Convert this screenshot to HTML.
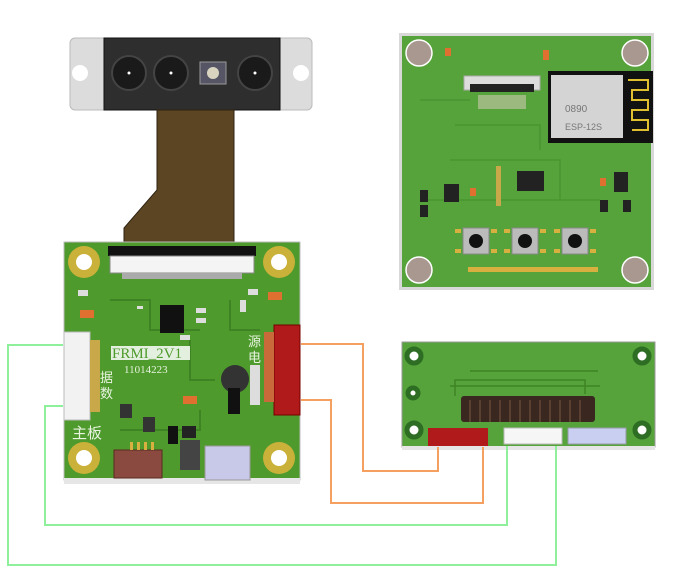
<!DOCTYPE html>
<html><head><style>body{margin:0;background:#fff}svg{display:block}</style></head><body>
<svg width="682" height="585" viewBox="0 0 682 585" xmlns="http://www.w3.org/2000/svg" font-family="Liberation Sans, Noto Sans CJK SC, sans-serif">
<!-- camera -->
<rect x="70" y="38" width="242" height="72" rx="5" fill="#dcdcdc" stroke="#bbb"/>
<circle cx="80" cy="73" r="8" fill="#fff"/><circle cx="301" cy="73" r="8" fill="#fff"/>
<rect x="104" y="38" width="176" height="72" fill="#2e2e2e" stroke="#111"/>
<g fill="#1a1a1a" stroke="#444" stroke-width="2">
<circle cx="129" cy="73" r="17"/><circle cx="171" cy="73" r="17"/><circle cx="255" cy="73" r="17"/></g>
<g fill="#fff"><circle cx="129" cy="73" r="1.5"/><circle cx="171" cy="73" r="1.5"/><circle cx="255" cy="73" r="1.5"/></g>
<rect x="200" y="62" width="26" height="22" fill="#556" stroke="#999"/><circle cx="213" cy="73" r="6" fill="#d8d4c0"/>
<path d="M157 110 H234 V245 H124 V228 L157 190 Z" fill="#5c4523" stroke="#2e2210"/>
<!-- main board -->
<rect x="64" y="242" width="236" height="238" fill="#4e9a2c" stroke="#bbb"/>
<rect x="64" y="478" width="236" height="6" fill="#e6e6e6"/>
<g fill="none" stroke="#3f8424" stroke-width="2"><path d="M110 300 H150 V330 H200"/><path d="M190 340 V380 H215"/><path d="M120 430 H200 V410"/><path d="M230 300 V330 H260"/></g>
<g fill="#c9b13a"><circle cx="84" cy="262" r="16"/><circle cx="279" cy="262" r="16"/><circle cx="84" cy="458" r="16"/><circle cx="279" cy="458" r="16"/></g>
<g fill="#fff"><circle cx="84" cy="262" r="8"/><circle cx="279" cy="262" r="8"/><circle cx="84" cy="458" r="8"/><circle cx="279" cy="458" r="8"/></g>
<rect x="108" y="246" width="148" height="10" fill="#111"/>
<rect x="110" y="256" width="144" height="17" fill="#f4f4f4" stroke="#888"/>
<rect x="122" y="273" width="120" height="6" fill="#aaa"/>
<rect x="160" y="305" width="24" height="28" fill="#111"/>
<g fill="#ddd"><rect x="137" y="306" width="6" height="3"/><rect x="196" y="308" width="10" height="5"/><rect x="196" y="318" width="10" height="5"/><rect x="180" y="335" width="10" height="5"/><rect x="240" y="300" width="6" height="12"/><rect x="78" y="290" width="10" height="6"/><rect x="248" y="289" width="10" height="6"/></g>
<rect x="80" y="310" width="14" height="8" fill="#e07030"/>
<rect x="268" y="292" width="14" height="8" fill="#e07030"/>
<rect x="183" y="396" width="14" height="8" fill="#e07030"/>
<rect x="64" y="332" width="26" height="88" fill="#f2f2f2" stroke="#bbb"/>
<rect x="90" y="340" width="10" height="72" fill="#c9a84a"/>
<rect x="274" y="325" width="26" height="90" fill="#b01a1a" stroke="#700"/>
<rect x="264" y="332" width="10" height="70" fill="#c96a3a"/>
<rect x="221" y="365" width="28" height="28" rx="14" fill="#333"/>
<rect x="228" y="388" width="12" height="26" fill="#111"/>
<rect x="250" y="365" width="10" height="40" fill="#ddd"/>
<rect x="111" y="346" width="79" height="14" fill="#fff" opacity=".85"/>
<text x="112" y="358" font-family="Liberation Serif, serif" font-size="15" fill="#4e9a2c">FRMI_2V1</text>
<text x="124" y="373" font-family="Liberation Serif, serif" font-size="11" fill="#e8f4e0">11014223</text>
<text x="72" y="438" font-size="15" fill="#e8f4e0">主板</text>
<text x="100" y="382" font-size="13" fill="#e8f4e0">据</text>
<text x="100" y="398" font-size="13" fill="#e8f4e0">数</text>
<text x="248" y="346" font-size="13" fill="#e8f4e0">源</text>
<text x="248" y="362" font-size="13" fill="#e8f4e0">电</text>
<rect x="114" y="450" width="48" height="28" fill="#8a4a40" stroke="#5a2a20"/>
<g fill="#d8b040"><rect x="130" y="442" width="3" height="8"/><rect x="137" y="442" width="3" height="8"/><rect x="144" y="442" width="3" height="8"/><rect x="151" y="442" width="3" height="8"/></g>
<rect x="180" y="440" width="20" height="30" fill="#444"/>
<rect x="205" y="446" width="45" height="34" fill="#c8c8e8" stroke="#999"/>
<rect x="120" y="404" width="12" height="14" fill="#333"/>
<rect x="143" y="417" width="12" height="15" fill="#333"/>
<rect x="168" y="426" width="10" height="18" fill="#111"/>
<rect x="182" y="426" width="14" height="12" fill="#222"/>
<!-- right board -->
<rect x="399" y="33" width="255" height="257" fill="#d8d8d8"/>
<rect x="402" y="36" width="249" height="251" fill="#55a33a"/>
<g fill="none" stroke="#4a9430" stroke-width="1.5"><path d="M420 100 H470"/><path d="M455 125 H540 V150"/><path d="M450 160 H560 V200"/><path d="M420 200 H600"/></g>
<g fill="#a89890" stroke="#fff" stroke-width="1.5"><circle cx="419" cy="53" r="13"/><circle cx="635" cy="53" r="13"/><circle cx="419" cy="270" r="13"/><circle cx="635" cy="270" r="13"/></g>
<rect x="548" y="71" width="105" height="72" fill="#111"/>
<rect x="551" y="75" width="72" height="63" fill="#d4d4d4"/>
<text x="565" y="112" font-size="10" fill="#777">0890</text>
<text x="565" y="130" font-size="9" fill="#777">ESP-12S</text>
<path d="M628 80 H648 V90 H632 V100 H648 V110 H632 V120 H648 V130 H632" fill="none" stroke="#e0c030" stroke-width="2"/>
<rect x="464" y="76" width="76" height="14" fill="#ddd" stroke="#aaa"/>
<rect x="470" y="84" width="64" height="8" fill="#222"/>
<rect x="478" y="95" width="48" height="14" fill="#9cba80"/>
<rect x="517" y="171" width="27" height="20" fill="#222"/>
<rect x="444" y="184" width="15" height="18" fill="#222"/>
<rect x="614" y="172" width="14" height="20" fill="#222"/>
<rect x="420" y="190" width="8" height="12" fill="#222"/><rect x="420" y="205" width="8" height="12" fill="#222"/>
<rect x="600" y="200" width="8" height="12" fill="#222"/><rect x="623" y="200" width="8" height="12" fill="#222"/>
<rect x="496" y="166" width="5" height="40" fill="#c8a848"/>
<g fill="#e07030"><rect x="600" y="178" width="6" height="8"/><rect x="445" y="48" width="6" height="8"/><rect x="543" y="50" width="6" height="10"/><rect x="470" y="188" width="6" height="8"/></g>
<g fill="#bbb" stroke="#888"><rect x="463" y="228" width="26" height="26"/><rect x="512" y="228" width="26" height="26"/><rect x="562" y="228" width="26" height="26"/></g>
<g fill="#111"><circle cx="476" cy="241" r="7"/><circle cx="525" cy="241" r="7"/><circle cx="575" cy="241" r="7"/></g>
<g fill="#d8b040"><rect x="455" y="229" width="6" height="4"/><rect x="455" y="249" width="6" height="4"/><rect x="491" y="229" width="6" height="4"/><rect x="491" y="249" width="6" height="4"/><rect x="504" y="229" width="6" height="4"/><rect x="504" y="249" width="6" height="4"/><rect x="540" y="229" width="6" height="4"/><rect x="540" y="249" width="6" height="4"/><rect x="554" y="229" width="6" height="4"/><rect x="554" y="249" width="6" height="4"/><rect x="590" y="229" width="6" height="4"/><rect x="590" y="249" width="6" height="4"/></g>
<rect x="468" y="267" width="130" height="5" fill="#d8b040"/>
<!-- bottom board -->
<rect x="402" y="342" width="253" height="105" fill="#55a33a" stroke="#999"/>
<rect x="402" y="446" width="253" height="4" fill="#e6e6e6"/>
<g fill="none" stroke="#3f8424" stroke-width="1.5"><path d="M470 371 H598"/><path d="M455 396 V380 H585 V394"/><path d="M450 386 H600"/></g>
<g fill="#fff" stroke="#2e6e24" stroke-width="5"><circle cx="414" cy="356" r="7"/><circle cx="642" cy="356" r="7"/><circle cx="413" cy="393" r="5"/><circle cx="414" cy="430" r="7"/><circle cx="642" cy="430" r="7"/></g>
<rect x="461" y="396" width="134" height="26" rx="3" fill="#3a2820"/>
<g stroke="#5a4030" stroke-width="2"><path d="M470 400 V422 M480 400 V422 M490 400 V422 M500 400 V422 M510 400 V422 M520 400 V422 M530 400 V422 M540 400 V422 M550 400 V422 M560 400 V422 M570 400 V422 M580 400 V422"/></g>
<rect x="428" y="428" width="60" height="18" fill="#b01a1a"/>
<rect x="504" y="428" width="58" height="16" fill="#f6f6f6" stroke="#bbb"/>
<rect x="568" y="428" width="58" height="16" fill="#c8cff0" stroke="#99a"/>
<!-- wires -->
<g fill="none" stroke-width="2">
<polyline points="63,345 8,345 8,565 556,565 556,446" stroke="#8ef09a"/>
<polyline points="63,406 45,406 45,525 507,525 507,446" stroke="#8ef09a"/>
<polyline points="301,344 363,344 363,471 438,471 438,447" stroke="#f5a060"/>
<polyline points="301,400 331,400 331,503 483,503 483,447" stroke="#f5a060"/>
</g>
</svg>
</body></html>
